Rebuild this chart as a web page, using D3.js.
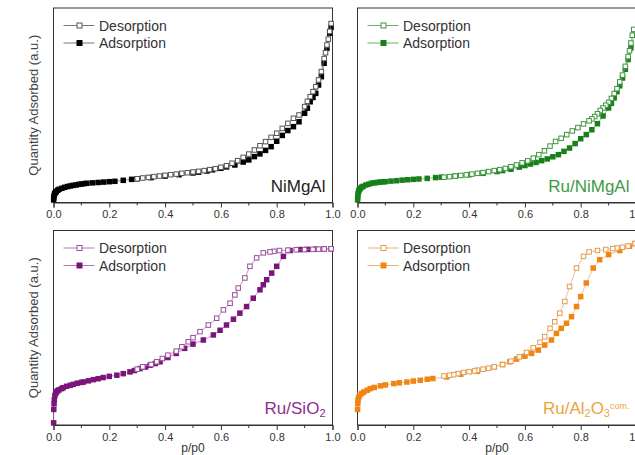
<!DOCTYPE html>
<html>
<head>
<meta charset="utf-8">
<script src="https://cdn.jsdelivr.net/npm/d3@7"></script>
<style>
  html, body { margin: 0; padding: 0; background: #fff; overflow: hidden; }
  svg { font-family: Arial, "Liberation Sans", sans-serif; display: block; }
</style>
</head>
<body>
<svg id="chart"></svg>
<script>
// x ticks (relative pressure) shared by all panels
const pressureTicks = [0, 0.2, 0.4, 0.6, 0.8, 1.0];
const minorTicks = [0.1, 0.3, 0.5, 0.7, 0.9];

// NiMgAl
const niAdsP = [0.0005, 0.001, 0.002, 0.004, 0.006, 0.008, 0.01, 0.015, 0.02, 0.03, 0.04, 0.05, 0.06, 0.07, 0.08, 0.09, 0.1, 0.11, 0.12, 0.14, 0.16, 0.18, 0.2, 0.22, 0.25, 0.28, 0.3, 0.35, 0.4, 0.45, 0.5, 0.52, 0.55, 0.57, 0.6, 0.62, 0.65, 0.68, 0.7, 0.72, 0.74, 0.76, 0.78, 0.8, 0.82, 0.84, 0.86, 0.88, 0.9, 0.91, 0.92, 0.93, 0.94, 0.95, 0.96, 0.97, 0.98, 0.99, 0.995];
const niAdsQ = [1.3, 2.5, 3.5, 4.5, 5.0, 5.4, 5.7, 6.3, 6.8, 7.3, 7.8, 8.2, 8.5, 8.8, 9.0, 9.3, 9.5, 9.7, 9.9, 10.1, 10.3, 10.5, 10.7, 10.9, 11.4, 11.9, 12.2, 12.8, 13.6, 14.3, 15.2, 15.6, 16.2, 16.8, 17.6, 18.3, 19.3, 20.8, 21.9, 23.6, 25, 26.8, 28.7, 31.5, 34.5, 37, 39, 41.5, 45.9, 48.5, 51.8, 54, 56.1, 60.4, 64.7, 71.6, 79.3, 87, 90];
const niDesP = [0.995, 0.99, 0.985, 0.98, 0.975, 0.97, 0.96, 0.95, 0.94, 0.93, 0.92, 0.91, 0.9, 0.88, 0.86, 0.84, 0.82, 0.8, 0.78, 0.76, 0.74, 0.72, 0.7, 0.68, 0.66, 0.64, 0.62, 0.6, 0.58, 0.56, 0.54, 0.52, 0.5, 0.48, 0.46, 0.44, 0.42, 0.4, 0.38, 0.36, 0.34, 0.32, 0.3];
const niDesQ = [92, 88, 84, 81, 77, 74, 67.3, 63, 59.5, 57, 54.4, 52, 49.3, 45, 43.3, 40.7, 38.1, 35.6, 33.5, 31.3, 29.2, 27, 24.9, 23.2, 21.5, 20.2, 18.9, 18.1, 17.4, 16.9, 16.4, 16, 15.7, 15.3, 15, 14.6, 14.3, 14, 13.6, 13.3, 12.9, 12.6, 12.2];

// Ru/NiMgAl
const ruNiAdsP = [0.0005, 0.001, 0.002, 0.004, 0.006, 0.008, 0.01, 0.015, 0.02, 0.03, 0.04, 0.05, 0.06, 0.07, 0.08, 0.09, 0.1, 0.12, 0.14, 0.16, 0.18, 0.2, 0.22, 0.25, 0.28, 0.3, 0.35, 0.4, 0.45, 0.5, 0.52, 0.55, 0.58, 0.6, 0.62, 0.64, 0.66, 0.68, 0.7, 0.72, 0.74, 0.76, 0.78, 0.8, 0.82, 0.84, 0.86, 0.88, 0.9, 0.91, 0.92, 0.93, 0.94, 0.95, 0.96, 0.97, 0.98, 0.99];
const ruNiAdsQ = [1.3, 3, 4.5, 5.8, 6.5, 7, 7.3, 7.9, 8.3, 9.0, 9.4, 9.9, 10.1, 10.3, 10.5, 10.6, 10.7, 11.0, 11.2, 11.5, 11.7, 11.9, 12.1, 12.4, 12.8, 13.0, 13.6, 14.3, 15.0, 15.9, 16.4, 17.1, 18.2, 19.0, 19.8, 20.6, 21.5, 22.4, 23.5, 24.6, 26.3, 28, 30.3, 32.8, 34.9, 37.4, 40.5, 44.5, 48.6, 51, 53.8, 57, 60, 64, 68.5, 73.5, 79.5, 86];
const ruNiDesP = [0.99, 0.985, 0.98, 0.975, 0.97, 0.96, 0.95, 0.94, 0.93, 0.92, 0.91, 0.9, 0.89, 0.88, 0.87, 0.86, 0.85, 0.84, 0.83, 0.81, 0.79, 0.77, 0.75, 0.73, 0.71, 0.69, 0.67, 0.65, 0.63, 0.61, 0.59, 0.57, 0.55, 0.53, 0.51, 0.49, 0.47, 0.45, 0.43, 0.41, 0.39, 0.37, 0.35, 0.33, 0.31];
const ruNiDesQ = [89, 86, 82, 78, 75, 70, 65.5, 62, 58.5, 56, 53.5, 51.5, 50, 48.6, 47.3, 45.6, 44.2, 43, 42, 40.4, 38.5, 36.8, 34.9, 33, 31.4, 29, 26.6, 24.6, 22.8, 21.4, 20.4, 19.3, 18.4, 17.5, 16.9, 16.4, 15.9, 15.4, 15, 14.6, 14.2, 13.9, 13.6, 13.3, 13.0];

// Ru/SiO2
const siAdsP = [0.0005, 0.001, 0.002, 0.003, 0.005, 0.008, 0.011, 0.015, 0.02, 0.029, 0.035, 0.047, 0.06, 0.071, 0.085, 0.1, 0.107, 0.125, 0.143, 0.16, 0.178, 0.2, 0.227, 0.25, 0.274, 0.29, 0.31, 0.33, 0.346, 0.365, 0.382, 0.41, 0.44, 0.47, 0.5, 0.537, 0.573, 0.597, 0.62, 0.645, 0.668, 0.692, 0.716, 0.74, 0.752, 0.764, 0.782, 0.8, 0.824, 0.848, 0.883, 0.91, 0.94, 0.97, 0.995];
const siAdsQ = [1.1, 8, 11, 13, 15.2, 16.3, 17, 17.6, 18.1, 18.7, 19.2, 19.9, 20.4, 20.9, 21.5, 21.9, 22.1, 22.7, 23.3, 23.8, 24.4, 25, 25.6, 26.4, 27.3, 28, 29, 29.8, 30.7, 31.6, 32.5, 34.7, 36.8, 39.4, 41.6, 43.7, 46.3, 48.7, 51.4, 54.4, 57.5, 60.9, 65.2, 69.5, 72.1, 74.7, 78.1, 81.6, 86.7, 89.7, 90.2, 90.3, 90.4, 90.5, 90.6];
const siDesP = [0.995, 0.97, 0.95, 0.93, 0.9, 0.87, 0.84, 0.81, 0.79, 0.776, 0.752, 0.728, 0.704, 0.686, 0.662, 0.65, 0.633, 0.609, 0.585, 0.555, 0.525, 0.5, 0.483, 0.46, 0.44, 0.41, 0.39, 0.37, 0.35, 0.32, 0.3];
const siDesQ = [90.6, 90.5, 90.4, 90.3, 90.2, 90.1, 89.9, 89.7, 89.3, 89, 88.5, 85.9, 81.6, 75.6, 70.4, 66.9, 62.6, 59.2, 54.9, 51.4, 48, 44.9, 42.8, 40.2, 38, 35.9, 34.2, 32.5, 31.1, 29.9, 28.7];

// Ru/Al2O3 com.
const alAdsP = [0.0003, 0.001, 0.002, 0.004, 0.008, 0.015, 0.023, 0.035, 0.046, 0.06, 0.082, 0.1, 0.13, 0.15, 0.177, 0.2, 0.225, 0.25, 0.27, 0.32, 0.37, 0.43, 0.49, 0.52, 0.546, 0.57, 0.6, 0.624, 0.648, 0.671, 0.695, 0.713, 0.73, 0.749, 0.767, 0.785, 0.8, 0.82, 0.845, 0.868, 0.9, 0.94, 0.975, 0.995];
const alAdsQ = [8, 11, 12.8, 14.3, 15.2, 16.2, 17, 17.9, 18.7, 19.3, 20.1, 20.6, 21.3, 21.7, 22.1, 22.6, 23, 23.5, 23.9, 24.7, 26.1, 27.6, 29.9, 31.1, 32.5, 33.9, 35.4, 36.8, 38.5, 41.1, 43.7, 47.1, 49.7, 52.3, 55.7, 60.9, 66, 73, 80.7, 85, 87.6, 89.7, 91.9, 93.3];
const alDesP = [0.995, 0.97, 0.95, 0.93, 0.915, 0.89, 0.86, 0.83, 0.81, 0.785, 0.76, 0.743, 0.725, 0.707, 0.69, 0.671, 0.654, 0.63, 0.606, 0.58, 0.55, 0.52, 0.49, 0.47, 0.45, 0.43, 0.42, 0.4, 0.38, 0.36, 0.345, 0.33, 0.31];
const alDesQ = [93.3, 92, 91.4, 91, 90.7, 90.2, 89.7, 89, 86.7, 80.7, 71.2, 63.5, 57.5, 53.1, 49.7, 45.4, 42.5, 39.7, 37.3, 35, 32.8, 31.1, 29.9, 29.2, 28.7, 28.2, 27.8, 27.4, 27, 26.4, 25.9, 25.6, 25.2];

const legendLabels = ["Desorption", "Adsorption"];

const W = 635, H = 455;
const panelW = 279, panelH = 194.5;

const panels = [
  { left: 53.5, top: 8, ads: [niAdsP, niAdsQ], des: [niDesP, niDesQ],
    mark: "#000", open: "#555", line: "#777", text: "#222",
    label: [["NiMgAl"]], yLabel: true, xLabel: false },
  { left: 357.5, top: 8, ads: [ruNiAdsP, ruNiAdsQ], des: [ruNiDesP, ruNiDesQ],
    mark: "#17801a", open: "#3d953d", line: "#6fae6f", text: "#3f9a3f",
    label: [["Ru/NiMgAl"]], yLabel: false, xLabel: false },
  { left: 53.5, top: 230.5, ads: [siAdsP, siAdsQ], des: [siDesP, siDesQ],
    mark: "#7a157c", open: "#9a4e9b", line: "#b07ab0", text: "#8c2f8d",
    label: [["Ru/SiO"], ["2", "sub"]], yLabel: true, xLabel: true },
  { left: 357.5, top: 230.5, ads: [alAdsP, alAdsQ], des: [alDesP, alDesQ],
    mark: "#f28411", open: "#e39b4a", line: "#e8b47a", text: "#f0a23e",
    label: [["Ru/Al"], ["2", "sub"], ["O"], ["3", "sub"], ["com.", "sup"]], yLabel: false, xLabel: true }
];

const svg = d3.select("#chart").attr("width", W).attr("height", H);

const sq = 5.5;

panels.forEach(p => {
  const g = svg.append("g").attr("transform", `translate(${p.left},${p.top})`);

  const x = d3.scaleLinear().domain([0, 1]).range([0, panelW]);
  const y = d3.scaleLinear().domain([0, 100]).range([panelH, 0]);

  const ads = p.ads[0].map((v, i) => ({ p: v, q: p.ads[1][i] }));
  const des = p.des[0].map((v, i) => ({ p: v, q: p.des[1][i] }));

  const line = d3.line().x(d => x(d.p)).y(d => y(d.q));

  // frame
  g.append("rect")
    .attr("width", panelW).attr("height", panelH)
    .attr("fill", "none").attr("stroke", "#333").attr("stroke-width", 1);

  // curves
  g.append("path").datum(ads).attr("d", line)
    .attr("fill", "none").attr("stroke", p.line).attr("stroke-width", 0.8);
  g.selectAll(".ads").data(ads).enter().append("rect")
    .attr("class", "ads")
    .attr("x", d => x(d.p) - sq / 2).attr("y", d => y(d.q) - sq / 2)
    .attr("width", sq).attr("height", sq)
    .attr("fill", p.mark);

  g.append("path").datum(des).attr("d", line)
    .attr("fill", "none").attr("stroke", p.line).attr("stroke-width", 0.8);
  g.selectAll(".des").data(des).enter().append("rect")
    .attr("class", "des")
    .attr("x", d => x(d.p) - sq / 2 + 0.5).attr("y", d => y(d.q) - sq / 2 + 0.5)
    .attr("width", sq - 1).attr("height", sq - 1)
    .attr("fill", "#fff").attr("stroke", p.open).attr("stroke-width", 1);

  // x axis
  const xAxis = g.append("g").attr("transform", `translate(0,${panelH})`)
    .call(d3.axisBottom(x).tickValues(pressureTicks).tickFormat(d3.format(".1f"))
      .tickSize(5).tickPadding(3));
  xAxis.select(".domain").attr("stroke", "#333");
  xAxis.selectAll(".tick line").attr("stroke", "#333");
  xAxis.selectAll(".tick text").attr("fill", "#333").style("font-size", "11px")
    .style("font-family", "Arial, 'Liberation Sans', sans-serif");
  g.append("g").attr("transform", `translate(0,${panelH})`)
    .selectAll("line").data(minorTicks).enter().append("line")
    .attr("x1", d => x(d)).attr("x2", d => x(d))
    .attr("y1", 0).attr("y2", 3).attr("stroke", "#333");

  if (p.xLabel) {
    g.append("text")
      .attr("x", panelW / 2).attr("y", panelH + 26.5)
      .attr("text-anchor", "middle").attr("fill", "#333")
      .style("font-size", "12px").text("p/p0");
  }

  if (p.yLabel) {
    g.append("text")
      .attr("transform", `translate(${-16},${panelH / 2}) rotate(-90)`)
      .attr("text-anchor", "middle").attr("fill", "#444")
      .style("font-size", "13px").text("Quantity Adsorbed (a.u.)");
  }

  // legend
  const lg = g.append("g");
  legendLabels.forEach((name, i) => {
    const ly = 17.5 + i * 17.5;
    lg.append("line").attr("x1", 10).attr("x2", 41).attr("y1", ly).attr("y2", ly)
      .attr("stroke", p.line).attr("stroke-width", 1);
    if (i === 0) {
      lg.append("rect").attr("x", 23.5).attr("y", ly - 2.5).attr("width", 5).attr("height", 5)
        .attr("fill", "#fff").attr("stroke", p.open).attr("stroke-width", 1);
    } else {
      lg.append("rect").attr("x", 23).attr("y", ly - 3).attr("width", 6).attr("height", 6)
        .attr("fill", p.mark);
    }
    lg.append("text").attr("x", 45.5).attr("y", ly + 5)
      .attr("fill", "#333").style("font-size", "14px").text(name);
  });

  // sample label
  const t = g.append("text")
    .attr("x", panelW - 7).attr("y", panelH - 11)
    .attr("text-anchor", "end").attr("fill", p.text)
    .style("font-size", "17px");
  p.label.forEach(([s, kind]) => {
    const ts = t.append("tspan").text(s);
    if (kind === "sub") ts.attr("baseline-shift", "-30%").style("font-size", "11px");
    if (kind === "sup") ts.attr("baseline-shift", "60%").style("font-size", "9px");
  });
});
</script>
</body>
</html>
